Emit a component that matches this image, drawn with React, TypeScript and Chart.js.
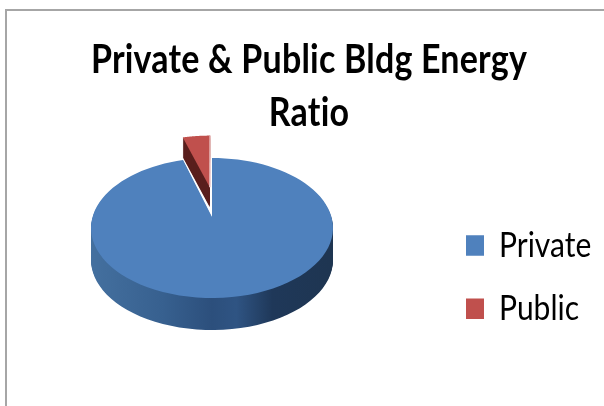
import React, { useEffect, useRef } from "react";
import { Chart, registerables } from "chart.js";

Chart.register(...registerables);

const categories = ["Private", "Public"];
const shares = [95.5, 4.5];
const sliceColors = ["#4f81bd", "#c0504d"];
const titleLines = ["Private & Public Bldg Energy", "Ratio"];
const explode = [0, 54];

// Canvas offset inside the framed panel
const FRAME_X = 7;
const FRAME_Y = 12;

// Tilted disc: ellipse on screen, with a projective shift for perspective
const DISC = { cx: 212 - FRAME_X, cy: 228 - FRAME_Y, rx: 121, ry: 70, skew: -0.157, depth: 32 };
const STEPS = 96;

// Text in this panel runs tall and narrow
const TEXT_STRETCH = 1.15;
const LEGEND_PIVOT = 222;

function project(u: number, v: number) {
  const a = DISC.skew;
  const w = 1 + a * v;
  return {
    x: DISC.cx + (DISC.rx * u * Math.sqrt(1 - a * a)) / w,
    y: DISC.cy + (DISC.ry * (v + a)) / w,
  };
}

function sliceOutline(arc: any, lift: number) {
  const { startAngle, endAngle } = arc;
  const mid = (startAngle + endAngle) / 2;
  // Pulled-out slices travel mostly straight back along the view axis
  const du = Math.cos(mid) * lift * 0.3;
  const dv = Math.sin(mid) * lift;
  const pts = [project(du, dv)];
  for (let i = 0; i <= STEPS; i++) {
    const t = startAngle + ((endAngle - startAngle) * i) / STEPS;
    pts.push(project(du + Math.cos(t), dv + Math.sin(t)));
  }
  return pts;
}

function trace(ctx: CanvasRenderingContext2D, pts: { x: number; y: number }[], dy: number) {
  ctx.beginPath();
  pts.forEach((p, i) => (i ? ctx.lineTo(p.x, p.y + dy) : ctx.moveTo(p.x, p.y + dy)));
  ctx.closePath();
}

// Wraps a layout box's draw so its text is stretched vertically about pivotY
function stretchBox(box: any, ctx: any, pivotY: number, spacing: string) {
  if (box.__stretched) return;
  box.__stretched = true;
  const draw = box.draw.bind(box);
  box.draw = (area: any) => {
    ctx.save();
    ctx.letterSpacing = spacing;
    ctx.translate(0, pivotY);
    ctx.scale(1, TEXT_STRETCH);
    ctx.translate(0, -pivotY);
    draw(area);
    ctx.restore();
  };
}

const tiltedPie = {
  id: "tiltedPie",
  afterLayout(chart: any) {
    // Legend sits in a fixed column to the right of the disc
    chart.legend.left = 434;
    chart.legend.top = 192;
    stretchBox(chart.legend, chart.ctx, LEGEND_PIVOT, "0px");
    stretchBox(chart.titleBlock, chart.ctx, 0, "0.2px");
  },
  beforeDatasetsDraw(chart: any) {
    const ctx: CanvasRenderingContext2D = chart.ctx;
    const arcs = chart.getDatasetMeta(0).data;
    const order = arcs.map((_: any, i: number) => i).reverse();
    ctx.save();
    for (const i of order) {
      const arc = arcs[i];
      const lift = (arc.options.offset || 0) / arc.outerRadius;
      const pts = sliceOutline(arc, lift);
      const depth = DISC.depth * (1 - 0.8 * lift);
      let side: CanvasGradient | string = "#5a1f1d";
      if (i === 0) {
        const g = ctx.createLinearGradient(DISC.cx - DISC.rx, 0, DISC.cx + DISC.rx, 0);
        g.addColorStop(0, "#44709f");
        g.addColorStop(0.3, "#37608f");
        g.addColorStop(0.5, "#2c4f7c");
        g.addColorStop(0.6, "#2f5483");
        g.addColorStop(0.75, "#1f3859");
        g.addColorStop(1, "#1e3551");
        side = g;
      }
      ctx.fillStyle = side;
      for (let s = depth; s > 0; s -= 1) {
        trace(ctx, pts, s);
        ctx.fill();
      }
      ctx.fillStyle = arc.options.backgroundColor;
      trace(ctx, pts, 0);
      ctx.fill();
      if (i === 1) {
        // Bright bevel along the cut edge of the pulled-out slice
        ctx.strokeStyle = "#e6b4b3";
        ctx.lineWidth = 1.5;
        ctx.beginPath();
        ctx.moveTo(pts[0].x, pts[0].y);
        ctx.lineTo(pts[pts.length - 1].x, pts[pts.length - 1].y);
        ctx.stroke();
      }
    }
    ctx.restore();
    return false;
  },
};

export default function App() {
  const ref = useRef<HTMLCanvasElement>(null);
  useEffect(() => {
    const chart = new Chart(ref.current!, {
      type: "pie",
      data: {
        labels: categories,
        datasets: [
          {
            data: shares,
            backgroundColor: sliceColors,
            borderWidth: 0,
            offset: explode,
          },
        ],
      },
      options: {
        animation: false,
        responsive: false,
        plugins: {
          title: {
            display: true,
            text: titleLines,
            color: "#000000",
            font: { family: "Lato", size: 34, weight: "bold", lineHeight: 1.354 },
            padding: { top: 19, bottom: 0 },
          },
          legend: {
            position: "right",
            align: "start",
            labels: {
              boxWidth: 18,
              boxHeight: 18,
              padding: 25,
              color: "#000000",
              font: { family: "Lato", size: 30 },
            },
          },
          tooltip: { enabled: false },
        },
      },
      plugins: [tiltedPie],
    } as any);
    return () => chart.destroy();
  }, []);

  return (
    <div style={{ position: "fixed", inset: 0, overflow: "hidden", background: "#ffffff" }}>
      <div
        style={{
          position: "absolute",
          left: 5,
          top: 9,
          right: -10,
          bottom: -10,
          borderLeft: "2px solid #a6a6a6",
          borderTop: "2px solid #a6a6a6",
        }}
      />
      <canvas
        ref={ref}
        width={604}
        height={394}
        style={{ position: "absolute", left: FRAME_X, top: FRAME_Y }}
      />
    </div>
  );
}
